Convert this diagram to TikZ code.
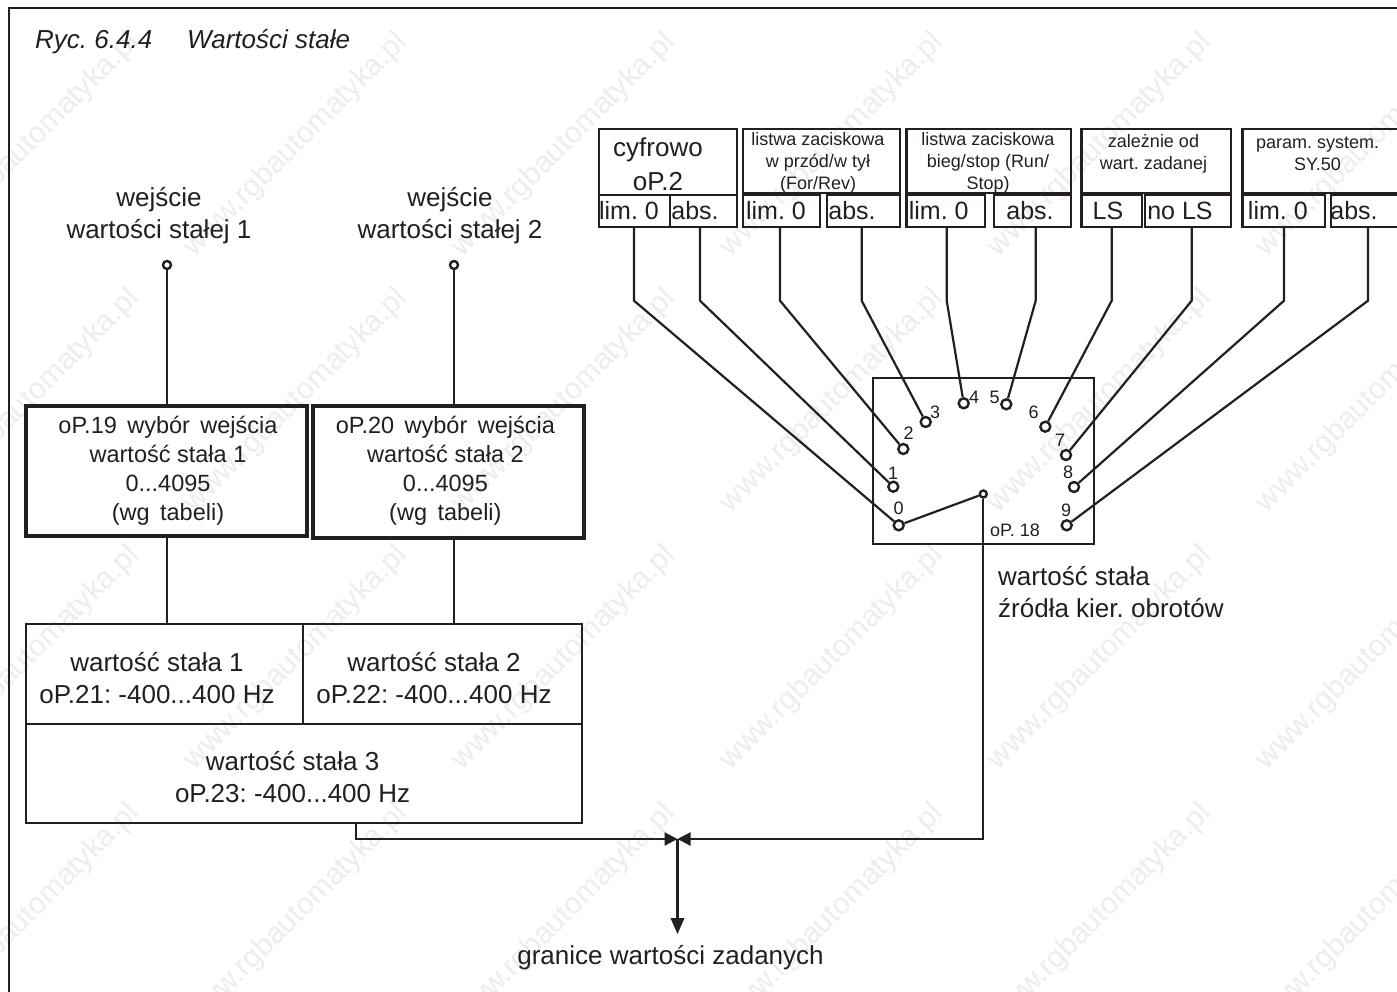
\documentclass[tikz,border=0pt]{standalone}
\usepackage{fontspec}
\setmainfont{Liberation Sans}
\frenchspacing
\usetikzlibrary{arrows.meta,calc}
\definecolor{ink}{HTML}{231F20}

\begin{document}
\begin{tikzpicture}[
  x=1pt, y=-1pt,
  txt/.style    = {text=ink, align=center, inner sep=0pt, font=\fontsize{26}{32}\selectfont},
  midtxt/.style = {txt, font=\fontsize{23.5}{29}\selectfont},
  smalltxt/.style = {txt, font=\fontsize{18}{22}\selectfont},
  stamp/.style  = {text=black!7, inner sep=0pt, rotate=45, font=\fontsize{30}{30}\selectfont},
  box/.style    = {draw=ink, line width=2.4pt, inner sep=0pt},
  selbox/.style = {box, line width=3.6pt},
  cell/.style   = {box, minimum height=32pt},
  head/.style   = {box, minimum height=64pt},
  contact/.style = {circle, draw=ink, fill=white, line width=2.4pt, minimum size=10pt, inner sep=0pt},
  pin/.style    = {contact, minimum size=7pt},
  wire/.style   = {draw=ink, line width=2.2pt},
  arr/.style    = {wire, -{Triangle[length=13pt,width=13pt]}},
  downarr/.style = {wire, -{Triangle[length=16pt,width=13.5pt]}}]

\useasboundingbox (0,0) rectangle (1397,992);
\clip (0,0) rectangle (1397,992);
\fill[white] (0,0) rectangle (1397,992);

% faint stamp behind everything
\foreach \k/\x in {0/28, 1/296, 2/564, 3/832, 4/1100, 5/1368}
  \foreach \j/\y in {1/145, 2/401, 3/658, 4/916}
    \node[stamp] (wm\k\j) at (\x,\y) {www.rgbautomatyka.pl};

% outer frame runs off the page on the right and at the bottom
\draw[draw=ink, line width=2.4pt] (1420,8) -- (9,8) -- (9,1010);
\node[txt, anchor=base west, font=\fontsize{26}{32}\selectfont\itshape] (title) at (35,49)
  {Ryc. 6.4.4\hspace{35pt}Wartości stałe};

% source headers
\node[head, minimum width=138pt, minimum height=66pt] (h1) at (668,162) {};
\foreach \n/\c/\w in {h2/821.5/157, h3/988.75/164.5, h4/1156.25/149.5, h5/1331/177}
  \node[head, minimum width=\w pt] (\n) at (\c,161) {};

\node[txt] (h1a) at (658,150) {cyfrowo};
\node[txt] (h1b) at (658,182) {oP.2};
\node[smalltxt] (h2t) at (818,163) {listwa zaciskowa\\w przód/w tył\\(For/Rev)};
\node[smalltxt] (h3t) at (988,163) {listwa zaciskowa\\bieg/stop (Run/\\Stop)};
\node[smalltxt] (h4t) at (1153.5,154) {zależnie od\\wart. zadanej};
\node[smalltxt] (h5t) at (1317.5,154) {param. system.\\SY.50};

% selection cells below the headers
\foreach \n/\c/\w/\t/\s in {l1/634.5/71/629/lim. 0, a1/703.5/67/695/abs.,
    l2/781.5/77/776/lim. 0, a2/863.5/73/852/abs.,
    l3/945.75/78.5/938.7/lim. 0, a3/1032.5/77/1030/abs.,
    l4/1111.75/60.5/1108/LS, a4/1188/86/1180/no LS,
    l5/1283.75/82.5/1277.8/lim. 0, a5/1375.5/89/1354/abs.} {
  \node[cell, minimum width=\w pt] (\n) at (\c,211) {};
  \node[txt, font=\fontsize{25}{30}\selectfont] (\n t) at (\t,211) {\s};
}

% rotary switch oP. 18
\node[box, minimum width=221pt, minimum height=166pt] (sw) at (983.5,461) {};
\node[smalltxt] (swt) at (1015,530.5) {oP. 18};
\foreach \i/\x/\y/\lx/\ly in {0/898.7/525.3/898.7/508, 1/893.3/486.7/893/473,
    2/903.3/449/908.7/433, 3/925.7/422/935/412, 4/963.7/403.3/974/397,
    5/1006.3/404.3/994.7/397, 6/1045.3/426.7/1033.7/412.7, 7/1066/455/1060/440.7,
    8/1074/487/1068/472.7, 9/1066.7/525.3/1066/510} {
  \node[contact] (c\i) at (\x,\y) {};
  \node[smalltxt] (d\i) at (\lx,\ly) {\i};
}
\node[pin] (piv) at (983.3,494) {};
\draw[wire] (piv) -- (c0);

% wires from the cells to the contacts
\foreach \n/\x/\i in {l1/634/0, a1/700/1, l2/780/2, a2/861.7/3, l3/946.7/4,
    a3/1035.7/5, l4/1111.7/6, a4/1191.7/7, l5/1284/8, a5/1368/9}
  \draw[wire] (\n.south -| \x,0) -- (\x,300.7) -- (c\i);

\node[txt, anchor=west, align=left] (swl) at (998,592) {wartość stała\\źródła kier. obrotów};

% fixed value inputs
\node[txt] (in1) at (159,216) {wejście\\wartości stałej 1};
\node[txt] (in2) at (450,216) {wejście\\wartości stałej 2};
\node[contact, minimum size=8pt] (p1) at (167,265) {};
\node[contact, minimum size=8pt] (p2) at (454,265) {};

\node[selbox, minimum width=281pt, minimum height=130pt] (s1) at (166.5,471) {};
\node[selbox, minimum width=271pt, minimum height=132pt] (s2) at (448.5,472) {};
\node[midtxt] (s1t) at (168,470.5) {oP.19\, wybór\, wejścia\\wartość stała 1\\0...4095\\(wg\, tabeli)};
\node[midtxt] (s2t) at (445.4,470.5) {oP.20\, wybór\, wejścia\\wartość stała 2\\0...4095\\(wg\, tabeli)};

\node[box, minimum width=277pt, minimum height=100pt] (v1) at (164.5,674) {};
\node[box, minimum width=279pt, minimum height=100pt] (v2) at (442.5,674) {};
\node[box, minimum width=556pt, minimum height=99pt] (v3) at (304,773.5) {};
\node[txt] (v1t) at (157,678) {wartość stała 1\\oP.21: -400...400 Hz};
\node[txt] (v2t) at (434,678) {wartość stała 2\\oP.22: -400...400 Hz};
\node[txt] (v3t) at (292.6,777) {wartość stała 3\\oP.23: -400...400 Hz};

\draw[wire] (p1) -- (s1.north -| p1);
\draw[wire] (p2) -- (s2.north -| p2);
\draw[wire] (s1.south -| p1) -- (v1.north -| p1);
\draw[wire] (s2.south -| p2) -- (v2.north -| p2);

% limits output
\coordinate (jn) at (677.5,839);
\coordinate (lim) at (677.5,934);
\node[txt] (out) at (670.5,958) {granice wartości zadanych};
\draw[arr] (v3.south -| 356,0) |- (jn);
\draw[arr] (piv) |- (jn);
\draw[downarr] (jn) -- (lim);

\end{tikzpicture}
\end{document}
